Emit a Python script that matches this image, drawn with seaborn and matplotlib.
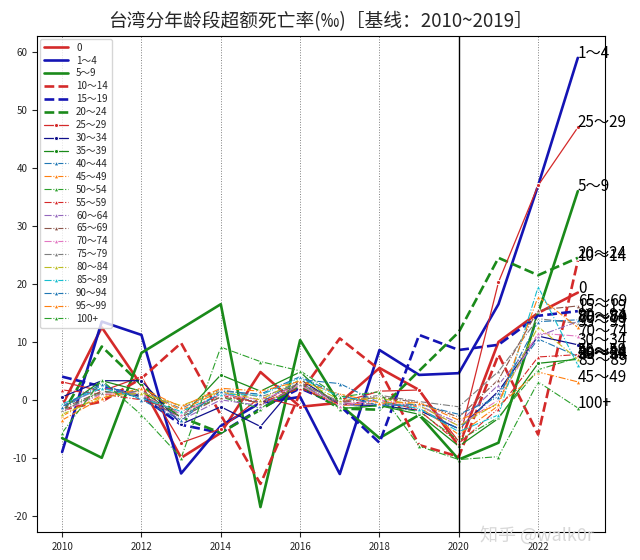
import numpy as np
import pandas as pd
import matplotlib
matplotlib.use("Agg")
import matplotlib.pyplot as plt
import seaborn as sns

# 年份
years = list(range(2010, 2024))

# 各年龄段超额死亡率 (‰)
groups = ["0", "1～4", "5～9", "10～14", "15～19", "20～24", "25～29", "30～34",
          "35～39", "40～44", "45～49", "50～54", "55～59", "60～64", "65～69",
          "70～74", "75～79", "80～84", "85～89", "90～94", "95～99", "100+"]

v_0 = [-1, 12.5, 2.5, -10, -5.7, 4.8, -1.2, -0.5, 5.5, 1.7, -8, 10, 15, 18.5]
v_1_4 = [-9, 13.5, 11.2, -12.7, -4.5, -0.5, 0.5, -12.8, 8.6, 4.3, 4.6, 16.5, 37, 59]
v_5_9 = [-6.6, -10, 8.1, 12.3, 16.5, -18.5, 10.3, -0.8, -6.6, -2.6, -10.3, -7.4, 15, 36]
v_10_14 = [-1.7, -0.3, 3.7, 9.8, -2.6, -14.5, 1.2, 10.6, 5.2, -7.8, -9.8, 7.8, -6, 24]
v_15_19 = [4, 2.3, 0.6, -4.3, -5.7, -1.5, 2, -1, -7.4, 11.2, 8.6, 9.5, 14.5, 15.3]
v_20_24 = [-2.5, 9.2, 2.6, -3, -5.7, -1.7, 2.5, -1.5, -1.7, 5, 11.7, 24.5, 21.5, 24.5]
v_25_29 = [3.1, 1.5, 4, -7.4, -5, 0.5, -1.2, -0.5, 1.5, 1.7, -7.2, 20.3, 37, 47]
v_30_34 = [0.5, 3.3, 3.3, -4.2, -1.2, -4.6, 3.5, -0.8, -1, -1.8, -5, 1.5, 11, 9.5]
v_35_39 = [-1.5, 3.3, 1.5, -3, 4.3, 1.5, 4.8, -1.5, -1, -2.5, -8, -3.2, 6.3, 7]
v_40_44 = [-1.5, 2.5, 0.5, -3, 1.2, -0.5, 3.5, 2.8, -0.5, -1.5, -5, 1.2, 10.5, 7.5]
v_45_49 = [-2.8, 0.8, 1.5, -1.8, 1.5, -0.8, 2.5, -1, -0.5, -1.2, -6, -1, 4.8, 3.1]
v_50_54 = [-2, 1.5, 0.8, -2.5, 0.5, -1.5, 3, -1.5, -1, -2, -7, -3, 5.2, 7.3]
v_55_59 = [1.7, 1, 0, -2, 0.8, -0.5, 2, -0.8, 0, -1.8, -7.5, -1.5, 7.4, 7.8]
v_60_64 = [-1, 2, 1, -3.5, 0, -1, 2.5, -0.5, -0.8, -1, -4, 2.6, 11, 13.5]
v_65_69 = [-1.5, 1.5, 0.5, -3, 0.5, -0.5, 3, -0.5, 0.5, -0.5, -3, 3.5, 15.5, 16.2]
v_70_74 = [-2, 1, 1, -2.5, 1, 0, 2.5, -1, 0, -1, -4.5, 0, 11.5, 11]
v_75_79 = [-1.8, 1.2, 1.5, -1.5, 1.8, 0.5, 2.8, -0.3, 0.8, -0.3, -1.2, 4.9, 14, 13.2]
v_80_84 = [-2.5, 0.5, 1.2, -1, 1.5, 0, 3.5, 0, 0.3, -1, -4.5, -0.5, 12.6, 7]
v_85_89 = [-0.7, 2, 0.3, -2, 1, 0.8, 3.8, 0.5, -0.3, -1.5, -5.5, -2.6, 19.5, 6]
v_90_94 = [-1.2, 2.8, 0, -3.5, 1.5, 1, 4, 0.8, -1, -0.8, -2.5, 0.5, 13.5, 13.8]
v_95_99 = [-3.5, 0.3, 2, -1.2, 2, 1.5, 3.2, 1, -0.5, -0.5, -3.5, -0.8, 17.8, 12.5]
v_100 = [-5.7, 3.4, -2.6, -10, 9.1, 6.6, 5, 0.5, 1.4, -8, -10.3, -9.8, 3.1, -1.4]

values = [v_0, v_1_4, v_5_9, v_10_14, v_15_19, v_20_24, v_25_29, v_30_34,
          v_35_39, v_40_44, v_45_49, v_50_54, v_55_59, v_60_64, v_65_69,
          v_70_74, v_75_79, v_80_84, v_85_89, v_90_94, v_95_99, v_100]

sns.set_style("ticks")
plt.rcParams['font.family'] = ['Noto Sans CJK SC', 'DejaVu Sans']
plt.rcParams['axes.unicode_minus'] = False

fig = plt.figure(figsize=(6.4, 5.6), dpi=100)
ax = fig.add_axes([0.058, 0.05, 0.887, 0.886])

red, blue, green = '#d42a2a', '#1414b4', '#1a8a1a'
tab = sns.color_palette("tab10")

for i, (name, vals) in enumerate(zip(groups, values)):
    if i < 3:
        kw = dict(color=[red, blue, green][i], linestyle='-', linewidth=1.9)
    elif i < 6:
        kw = dict(color=[red, blue, green][i - 3], linestyle='--', linewidth=1.9)
    elif i < 9:
        kw = dict(color=[red, '#10108c', green][i - 6], linestyle='-', linewidth=0.9,
                  marker='o', markersize=3)
    else:
        kw = dict(color=tab[(i - 9) % 10], linestyle='-.', linewidth=0.8,
                  marker='^', markersize=3.5)
    sns.lineplot(x=years, y=vals, ax=ax, label=name, **kw)
    ax.text(years[-1], vals[-1], name, fontsize=11, color='black')

ax.axvline(2020, color='black', linewidth=1)

ax.set_xlim(2009.37, 2023.68)
ax.set_ylim(-22.8, 62.8)
ax.set_xticks(range(2010, 2024, 2))
ax.set_yticks(range(-20, 61, 10))
ax.tick_params(labelsize=7)
ax.grid(axis='x', linestyle=':', color='grey', linewidth=0.7)
ax.grid(axis='y', visible=False)
for s in ax.spines.values():
    s.set_visible(True)
    s.set_color('black')
ax.set_xlabel('')
ax.set_ylabel('')

ax.legend(loc='upper left', fontsize=7, labelspacing=0.3, handlelength=2.5,
          frameon=True, borderaxespad=0.3)

ax.set_title('台湾分年龄段超额死亡率(‰)［基线：2010~2019］', fontsize=13.5, pad=6)

fig.text(0.75, 0.035, '知乎 @walk0r', fontsize=13, color='#d8d8d8')

plt.savefig('out.png', dpi=100)
